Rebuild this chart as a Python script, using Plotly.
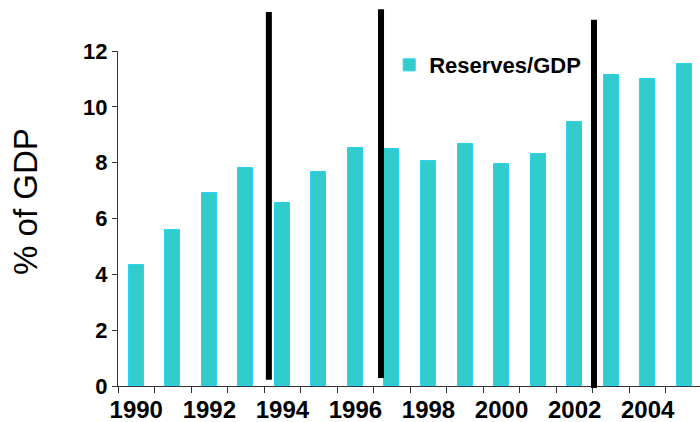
import plotly.graph_objects as go

# Reserves as a share of GDP, by year
years = [1990, 1991, 1992, 1993, 1994, 1995, 1996, 1997,
         1998, 1999, 2000, 2001, 2002, 2003, 2004, 2005]
reserves_gdp = [4.35, 5.6, 6.92, 7.82, 6.54, 7.68, 8.53, 8.49,
                8.05, 8.68, 7.94, 8.30, 9.47, 11.14, 10.98, 11.53]

# Break markers: year position, lower and upper end (in % of GDP)
break_x = [1993.63, 1996.70, 2002.53]
break_low = [0.22, 0.29, -0.07]
break_high = [13.4, 13.5, 13.12]

x_tick_vals = [1990, 1992, 1994, 1996, 1998, 2000, 2002, 2004]
y_tick_vals = [0, 2, 4, 6, 8, 10, 12]

Y_MAX = 12
BAR_FILL = "#33CCCC"
BAR_EDGE = "#28D2F2"
AXIS_COL = "#333333"
FONT = "Arial, Liberation Sans, sans-serif"

fig = go.Figure()
fig.add_trace(go.Bar(
    x=years,
    y=reserves_gdp,
    width=0.41,
    name="Reserves/GDP",
    marker=dict(color=BAR_FILL, line=dict(color=BAR_EDGE, width=1)),
))

for bx, lo, hi in zip(break_x, break_low, break_high):
    fig.add_shape(
        type="line", xref="x", yref="paper",
        x0=bx, x1=bx, y0=lo / Y_MAX, y1=hi / Y_MAX,
        line=dict(color="black", width=6), layer="above",
    )

# Vertical axis caption
fig.add_annotation(
    text="% of GDP", textangle=-90,
    xref="paper", yref="paper", x=-0.16, y=0.552,
    xanchor="center", yanchor="middle", showarrow=False,
    font=dict(family=FONT, size=33, color="black"),
)

fig.update_layout(
    width=700, height=422,
    margin=dict(l=118, r=0, t=51, b=36),
    paper_bgcolor="white", plot_bgcolor="white",
    font=dict(family=FONT, color="black"),
    showlegend=True,
    legend=dict(
        x=0.466, xanchor="left", y=0.958, yanchor="middle",
        bgcolor="rgba(0,0,0,0)", borderwidth=0,
        font=dict(family=FONT, size=22, color="black", weight="bold"),
        itemwidth=30,
    ),
    bargap=0,
)

fig.update_xaxes(
    range=[1989.5, 1989.5 + 582 / 36.53],
    automargin=False,
    tickmode="array", tickvals=x_tick_vals,
    ticktext=[str(v) for v in x_tick_vals],
    ticks="outside", ticklen=2, tickcolor="rgba(0,0,0,0)",
    tickfont=dict(family=FONT, size=24, color="black", weight="bold"),
    showline=True, linecolor=AXIS_COL, linewidth=1,
    showgrid=False, zeroline=False,
    minor=dict(tick0=1989.5, dtick=1, ticks="outside", ticklen=6,
               tickcolor=AXIS_COL, tickwidth=1, showgrid=False),
)

fig.update_yaxes(
    range=[0, Y_MAX],
    automargin=False,
    tickmode="array", tickvals=y_tick_vals,
    ticks="outside", ticklen=5, tickcolor=AXIS_COL, tickwidth=1,
    tickfont=dict(family=FONT, size=22, color="black", weight="bold"),
    showline=True, linecolor=AXIS_COL, linewidth=1,
    showgrid=False, zeroline=False,
)

fig.write_html("out.html")
